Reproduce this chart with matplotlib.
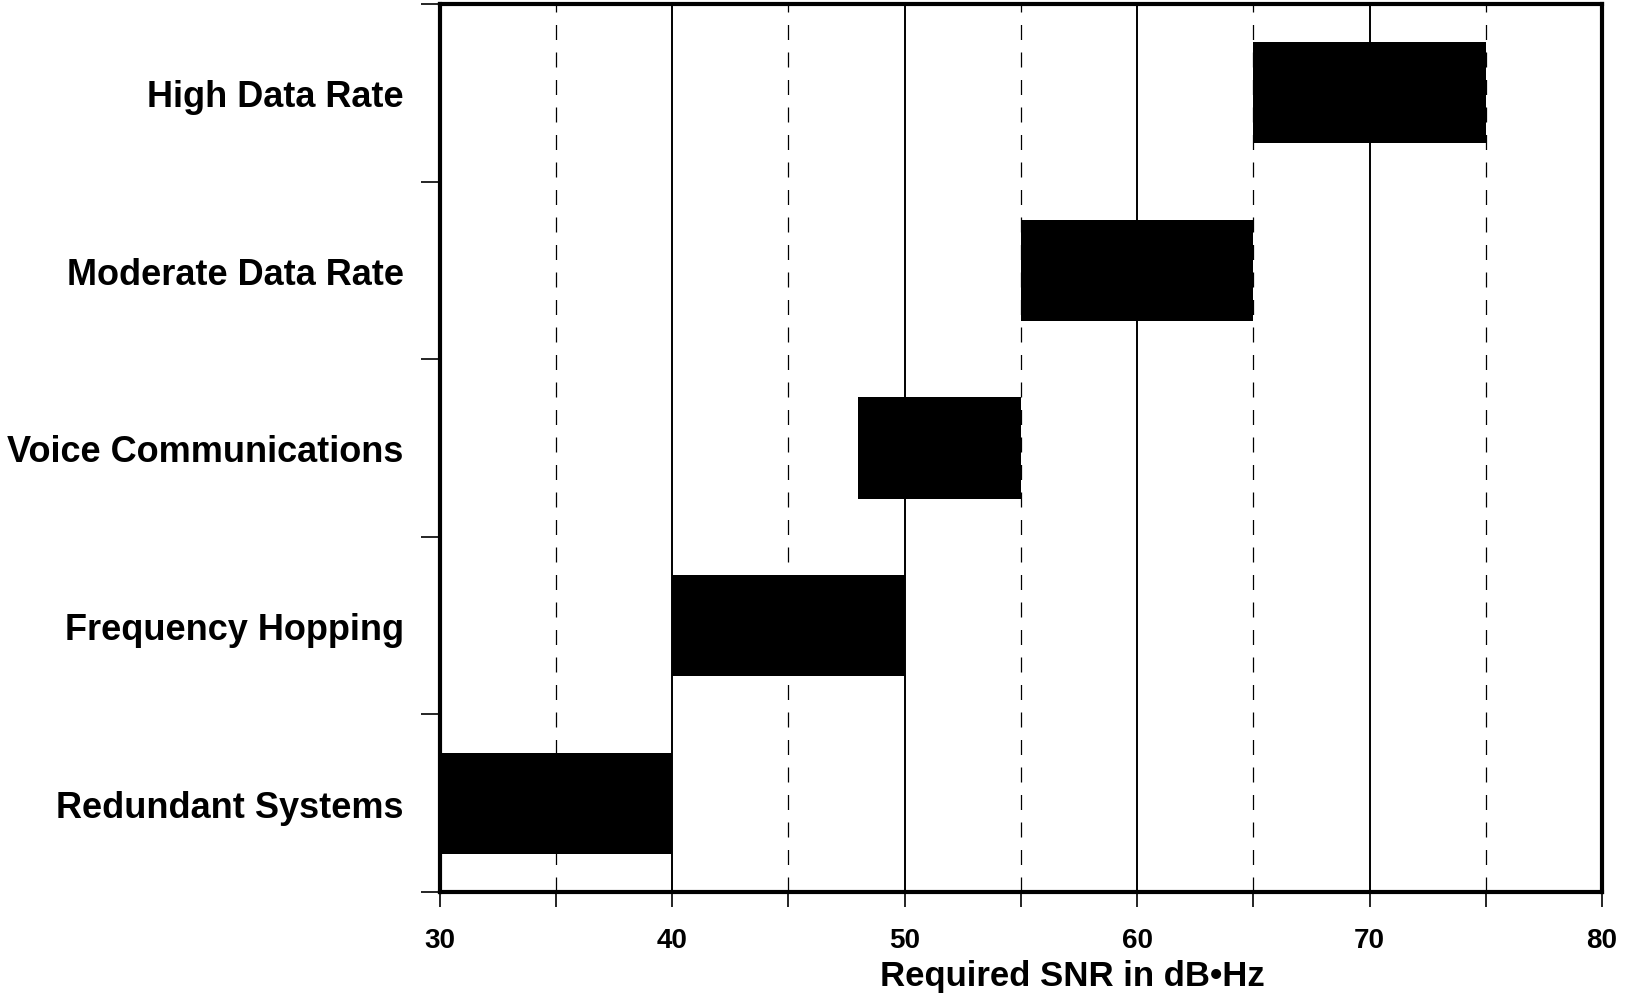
import matplotlib
matplotlib.use("Agg")
import matplotlib.pyplot as plt
import numpy as np

# data
categories = ["Redundant Systems", "Frequency Hopping", "Voice Communications",
              "Moderate Data Rate", "High Data Rate"]
snr_low = [30, 40, 48, 55, 65]
snr_high = [40, 50, 55, 65, 75]
x_ticks = [30, 40, 50, 60, 70, 80]
x_minor = [35, 45, 55, 65, 75]

plt.rcParams['font.family'] = ['Liberation Sans', 'DejaVu Sans']
plt.rcParams['font.weight'] = 'bold'

fig = plt.figure(figsize=(16.29, 10.03), dpi=100)
ax = fig.add_axes([0.270, 0.1097, 0.7134, 0.8853])

y = np.arange(len(categories))
widths = [h - l for l, h in zip(snr_low, snr_high)]

# grid: solid at the decades, dashed at the fives
for v in x_ticks[1:-1]:
    ax.axvline(v, color='black', lw=1.4, zorder=1)
for v in x_minor:
    ax.axvline(v, color='black', lw=0.9, ls=(0, (12, 10)), zorder=1)

ax.barh(y, widths, left=snr_low, height=0.57, color='black', zorder=3)

ax.set_xlim(30, 80)
ax.set_ylim(-0.5, len(categories) - 0.5)

ax.set_xticks(x_ticks)
ax.set_xticks(x_ticks + x_minor, minor=True)
ax.set_xticklabels([str(t) for t in x_ticks], fontsize=20, fontweight='bold')
ax.tick_params(axis='x', which='major', length=11, width=1.2, direction='out', pad=14)
ax.tick_params(axis='x', which='minor', length=11, width=1.2, direction='out')

ax.set_yticks(y)
ax.set_yticklabels(categories, fontsize=26, fontweight='bold')
ax.set_yticks(np.arange(-0.5, len(categories)), minor=True)
ax.tick_params(axis='y', which='major', length=0, pad=26)
ax.tick_params(axis='y', which='minor', length=14, width=1.2, direction='out')

for s in ax.spines.values():
    s.set_linewidth(3.0)

fig.text(0.658, 0.026, "Required SNR in dB\u2022Hz", fontsize=25, fontweight='bold',
         ha='center', va='center')

fig.savefig("out.png", dpi=100)
